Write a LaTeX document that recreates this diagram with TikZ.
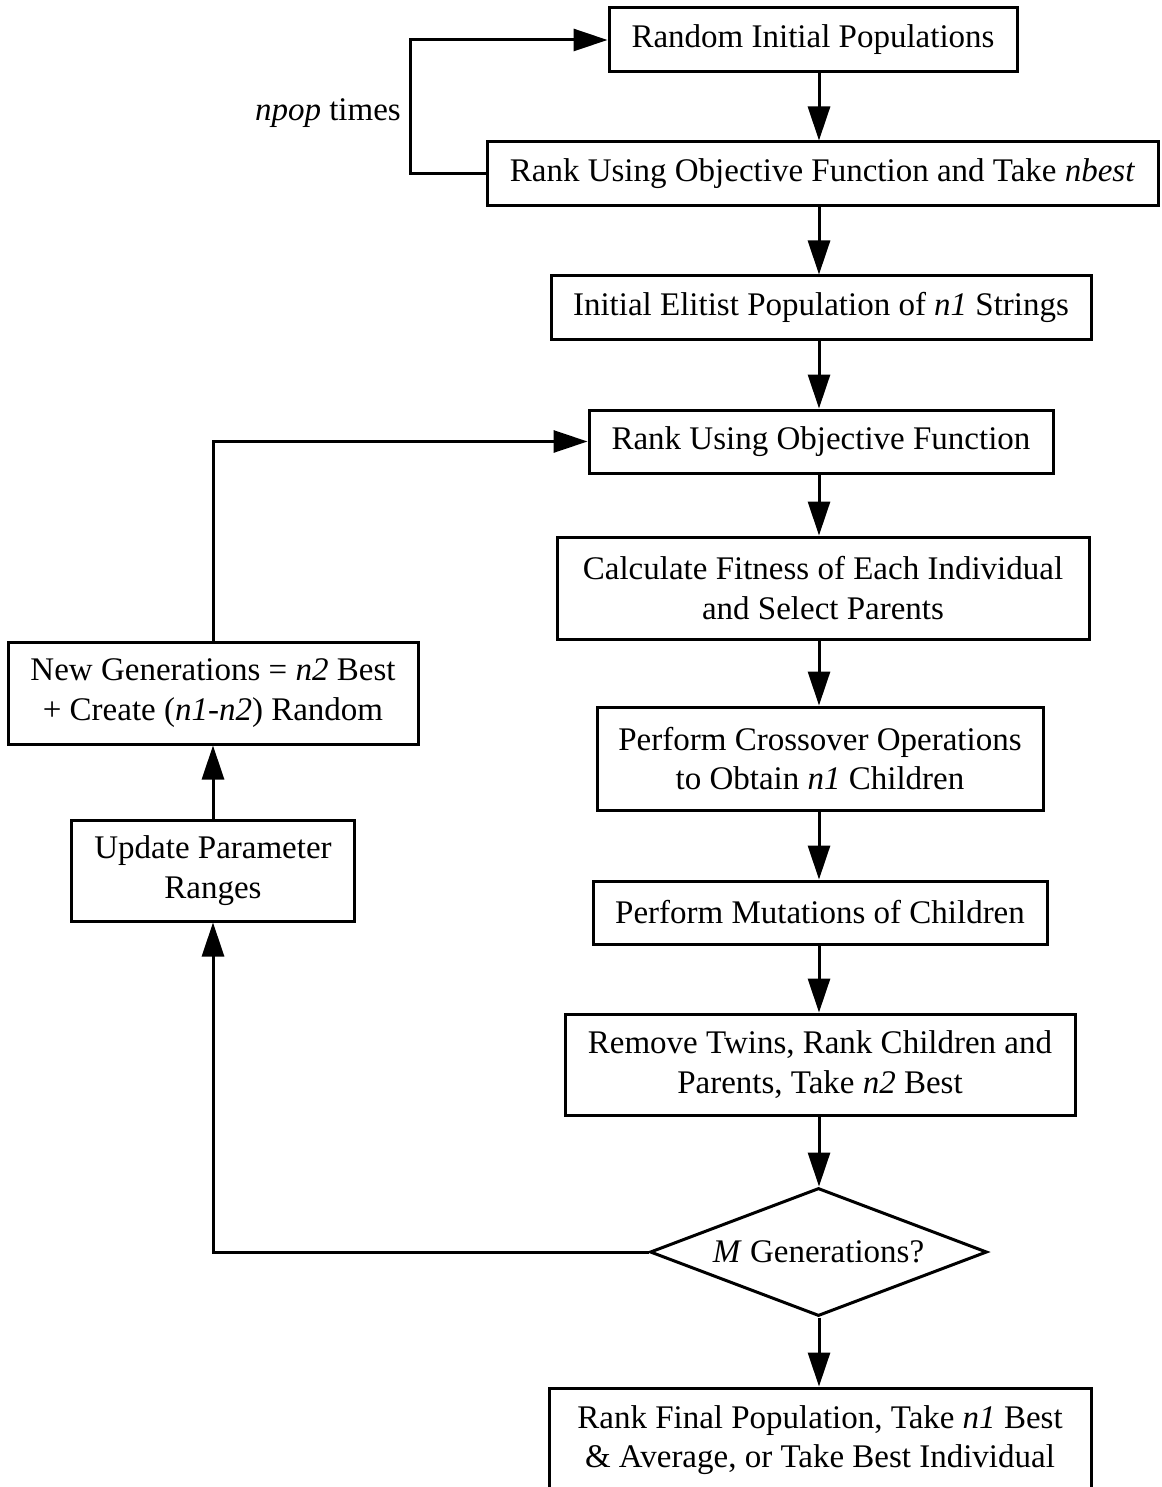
\documentclass[tikz,border=0pt]{standalone}
\usepackage{fontspec}
\setmainfont{Liberation Serif}
\usetikzlibrary{arrows.meta,shapes.geometric}
\begin{document}
\begin{tikzpicture}[x=1pt,y=-1pt,
  every node/.style={font=\fontsize{33}{39.5}\selectfont, align=center, inner sep=0pt},
  box/.style={draw, line width=3pt, rectangle},
  arr/.style={line width=3pt, -{Triangle[length=34pt,width=22pt]}},
  ln/.style={line width=3pt}]
\useasboundingbox[fill=white] (0,0) rectangle (1161,1487);
\begin{scope}
\clip (0,0) rectangle (1161,1487);
\node[box, minimum width=408pt, minimum height=64pt] (b1) at (813,40) {Random Initial Populations};
\node[box, minimum width=671pt, minimum height=64pt] (b2) at (822.5,174) {Rank Using Objective Function and Take \textit{nbest}};
\node[box, minimum width=540pt, minimum height=63pt] (b3) at (821,307.5) {Initial Elitist Population of \textit{n1} Strings};
\node[box, minimum width=464pt, minimum height=63pt] (b4) at (821,441.5) {Rank Using Objective Function};
\node[box, minimum width=532pt, minimum height=102pt] (b5) at (823,588) {Calculate Fitness of Each Individual\\and Select Parents};
\node[box, minimum width=446pt, minimum height=103pt] (b6) at (820,758.5) {Perform Crossover Operations\\to Obtain \textit{n1} Children};
\node[box, minimum width=454pt, minimum height=63pt] (b7) at (820,912.5) {Perform Mutations of Children};
\node[box, minimum width=510pt, minimum height=101pt] (b8) at (820,1064.5) {Remove Twins, Rank Children and\\Parents, Take \textit{n2} Best};
\node[draw, line width=3pt, diamond, aspect=2.63, minimum width=337pt, minimum height=128pt] (d) at (818.5,1252) {\textit{M} Generations?};
\node[box, minimum width=542pt, minimum height=104pt] (b10) at (820,1440) {Rank Final Population, Take \textit{n1} Best\\\& Average, or Take Best Individual};
\node[box, minimum width=410pt, minimum height=102pt] (b11) at (213,693) {New Generations = \textit{n2} Best\\+ Create (\textit{n1}-\textit{n2}) Random};
\node[box, minimum width=283pt, minimum height=101pt] (b12) at (213,870.5) {Update Parameter\\Ranges};
\node[anchor=east] (lbl) at (401,113) {\textit{npop} times};
\coordinate (ax) at (819,0);
\draw[arr] (b1.south -| ax) -- (b2.north -| ax);
\draw[arr] (b2.south -| ax) -- (b3.north -| ax);
\draw[arr] (b3.south -| ax) -- (b4.north -| ax);
\draw[arr] (b4.south -| ax) -- (b5.north -| ax);
\draw[arr] (b5.south -| ax) -- (b6.north -| ax);
\draw[arr] (b6.south -| ax) -- (b7.north -| ax);
\draw[arr] (b7.south -| ax) -- (b8.north -| ax);
\draw[arr] (b8.south -| ax) -- (d.north -| ax);
\draw[arr] (d.south -| ax) -- (b10.north -| ax);
\draw[arr] (b2.west) -- ++(-75,0) |- (b1.west);
\draw[arr] (d.west) -| (b12.south);
\draw[arr] (b12.north) -- (b11.south);
\draw[arr] (b11.north) |- (b4.west);
\end{scope}
\end{tikzpicture}
\end{document}
